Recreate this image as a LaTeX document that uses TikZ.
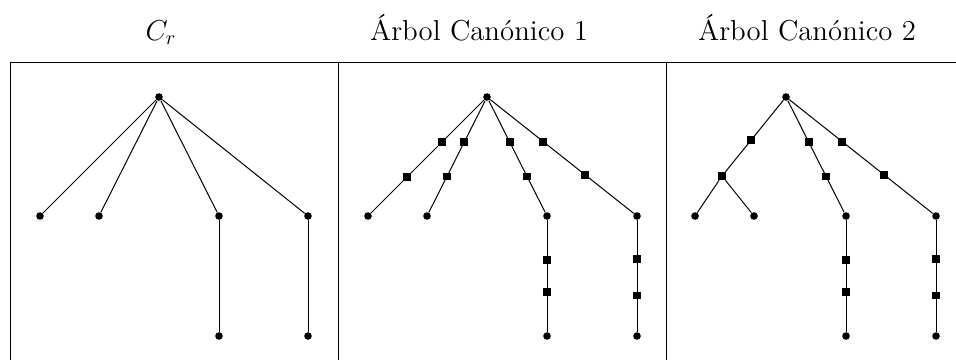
\documentclass[tikz,border=0pt]{standalone}
\usepackage{amsmath}
\usepackage{tikz}
\usetikzlibrary{positioning}

\begin{document}
\begin{tikzpicture}[
    x=0.5pt, y=-0.5pt,
    vert/.style={circle, fill=black, inner sep=0pt, minimum size=3.8pt},
    sub/.style={rectangle, fill=black, inner sep=0pt, minimum size=3.9pt},
    title/.style={font=\Large, anchor=base},
    edge/.style={line width=0.5pt}
]
\useasboundingbox (0,0) rectangle (956,360);

% Table
\draw (10,62) -- (956,62);
\draw (10,62) -- (10,360);
\draw (338,62) -- (338,360);
\draw (666,62) -- (666,360);

% Titles
\node[title] (t0) at (161,40) {$C_r$};
\node[title] (t1) at (479,40) {Árbol Canónico 1};
\node[title] (t2) at (807,40) {Árbol Canónico 2};

% C_r
\node[vert] (r0) at (159,97) {};
\node[vert] (a0) at (40,216) {};
\node[vert] (b0) at (99,216) {};
\node[vert] (c0) at (219,216) {};
\node[vert] (d0) at (308,216) {};
\node[vert] (e0) at (219,336) {};
\node[vert] (f0) at (308,336) {};

\draw[edge] (r0) -- (a0);
\draw[edge] (r0) -- (b0);
\draw[edge] (r0) -- (c0);
\draw[edge] (r0) -- (d0);
\draw[edge] (c0) -- (e0);
\draw[edge] (d0) -- (f0);

% Arbol canonico 1
\node[vert] (r1) at (487,97) {};
\node[vert] (a1) at (368,216) {};
\node[vert] (b1) at (427,216) {};
\node[vert] (c1) at (547,216) {};
\node[vert] (d1) at (637,216) {};
\node[vert] (e1) at (547,336) {};
\node[vert] (f1) at (637,336) {};

\draw[edge] (r1) -- node[sub, pos=0.37] {} node[sub, pos=0.68] {} (a1);
\draw[edge] (r1) -- node[sub, pos=0.37] {} node[sub, pos=0.68] {} (b1);
\draw[edge] (r1) -- node[sub, pos=0.37] {} node[sub, pos=0.68] {} (c1);
\draw[edge] (r1) -- node[sub, pos=0.37] {} node[sub, pos=0.66] {} (d1);
\draw[edge] (c1) -- node[sub, pos=0.36] {} node[sub, pos=0.64] {} (e1);
\draw[edge] (d1) -- node[sub, pos=0.35] {} node[sub, pos=0.675] {} (f1);

% Arbol canonico 2
\node[vert] (r2) at (786,97) {};
\node[sub]  (s2) at (722,176) {};
\node[vert] (a2) at (695,216) {};
\node[vert] (b2) at (754,216) {};
\node[vert] (c2) at (846,216) {};
\node[vert] (d2) at (936,216) {};
\node[vert] (e2) at (846,336) {};
\node[vert] (f2) at (936,336) {};

\draw[edge] (r2) -- node[sub, pos=0.56] {} (s2);
\draw[edge] (s2) -- (a2);
\draw[edge] (s2) -- (b2);
\draw[edge] (r2) -- node[sub, pos=0.37] {} node[sub, pos=0.68] {} (c2);
\draw[edge] (r2) -- node[sub, pos=0.37] {} node[sub, pos=0.66] {} (d2);
\draw[edge] (c2) -- node[sub, pos=0.36] {} node[sub, pos=0.64] {} (e2);
\draw[edge] (d2) -- node[sub, pos=0.35] {} node[sub, pos=0.675] {} (f2);

\end{tikzpicture}
\end{document}
